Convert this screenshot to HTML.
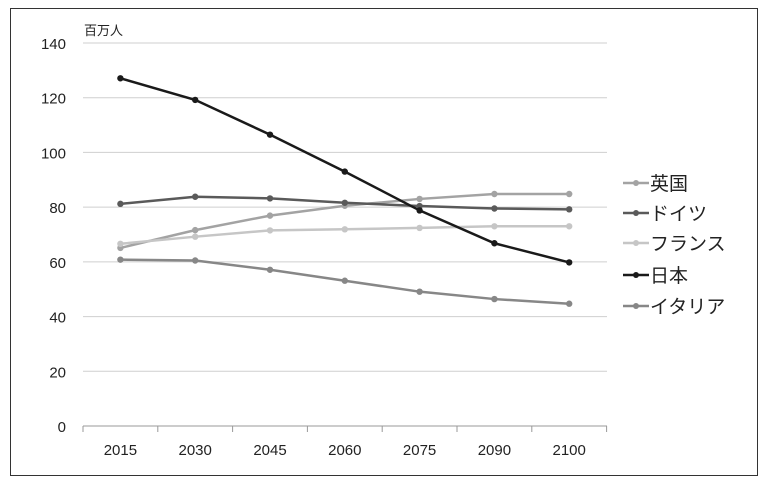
<!DOCTYPE html>
<html><head><meta charset="utf-8"><style>
body{margin:0;background:#fff;}
svg{display:block;font-family:"Liberation Sans","Noto Sans CJK JP",sans-serif;}
</style></head><body>
<svg id="chart" width="768" height="484">
<rect x="10.5" y="8.5" width="747" height="467" fill="#fff" stroke="#333" stroke-width="1"/>
<text x="84" y="35" font-size="13" fill="#222">百万人</text>
<g id="grid"></g><g id="series"></g><g id="legend"></g>
</svg>
<script>
const categories=["2015","2030","2045","2060","2075","2090","2100"];
const yTicks=[0,20,40,60,80,100,120,140];
const seriesNames=["英国","ドイツ","フランス","日本","イタリア"];
const ukValues=[65.1,71.6,76.9,80.5,83.0,84.8,84.8];
const germanyValues=[81.2,83.8,83.2,81.6,80.4,79.5,79.2];
const franceValues=[66.6,69.2,71.5,71.9,72.4,73.0,73.0];
const japanValues=[127.1,119.2,106.5,93.0,78.8,66.8,59.8];
const italyValues=[60.8,60.5,57.1,53.1,49.1,46.4,44.7];
const colors=["#a3a3a3","#5a5a5a","#c6c6c6","#1a1a1a","#878787"];
const allSeries=[ukValues,germanyValues,franceValues,japanValues,italyValues];
const NS="http://www.w3.org/2000/svg";
const x0=83,bw=74.8,yBase=426,yTop=43,yMax=140;
const xs=i=>x0+bw*(i+0.5);
const ys=v=>yBase-(v/yMax)*(yBase-yTop);
function mk(tag,attrs,parent){const e=document.createElementNS(NS,tag);for(const k in attrs)e.setAttribute(k,attrs[k]);parent.appendChild(e);return e;}
const grid=document.getElementById('grid');
yTicks.forEach(t=>{
 const l=mk('line',{x1:x0,x2:607,y1:ys(t),y2:ys(t),stroke:t===0?'#999':'#cfcfcf','stroke-width':1},grid);
 
 
 const tx=mk('text',{x:66,y:ys(t)+6,'font-size':15,fill:'#222','text-anchor':'end'},grid);
 tx.textContent=t;
 
 
});
categories.forEach((c,i)=>{
 const tk=mk('line',{x1:x0+bw*i,x2:x0+bw*i,y1:yBase,y2:yBase+6,stroke:'#999'},grid);
 
 
 const tx=mk('text',{x:xs(i),y:455,'font-size':15,fill:'#222','text-anchor':'middle'},grid);
 tx.textContent=c;
 
 
});
const tkEnd=mk('line',{x1:x0+bw*7,x2:x0+bw*7,y1:yBase,y2:yBase+6,stroke:'#999'},grid);


const sg=document.getElementById('series');
allSeries.forEach((vals,s)=>{
 const p=mk('polyline',{points:vals.map((v,i)=>xs(i)+','+ys(v)).join(' '),fill:'none',stroke:colors[s],'stroke-width':2.5},sg);
 
 
 vals.forEach((v,i)=>{
  const c=mk('circle',{cx:xs(i),cy:ys(v),r:3.2,fill:colors[s]},sg);
  
  
 });
});
const lg=document.getElementById('legend');
const legY=[183,213,243,275,306];
seriesNames.forEach((n,s)=>{
 const g=mk('g',{},lg);
 
 
 mk('line',{x1:623,x2:649,y1:legY[s],y2:legY[s],stroke:colors[s],'stroke-width':2.5},g);
 mk('circle',{cx:636,cy:legY[s],r:3,fill:colors[s]},g);
 const t=mk('text',{x:650,y:legY[s]+7,'font-size':19,fill:'#222'},g);
 t.textContent=n;
});
</script>
</body></html>
